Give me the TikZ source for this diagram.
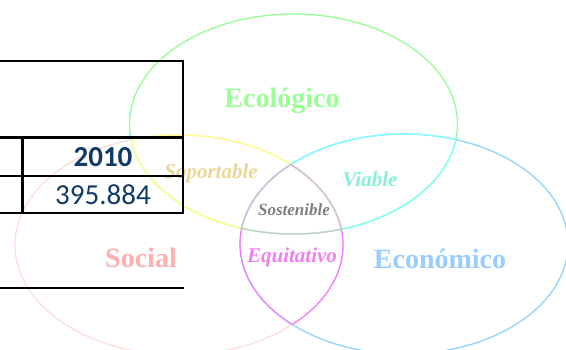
\documentclass[tikz,border=0pt]{standalone}
\usepackage{fontspec}
\setmainfont{Liberation Serif}
\newfontfamily\tabfont{Carlito}
\usetikzlibrary{positioning}

\definecolor{ecoGreen}{HTML}{94FF94}
\definecolor{socPink}{HTML}{FFDCDC}
\definecolor{ecnBlue}{HTML}{8ED4FF}
\definecolor{supYellow}{HTML}{FFFF88}
\definecolor{viaCyan}{HTML}{80FFFF}
\definecolor{equMag}{HTML}{F080FF}
\definecolor{susGray}{HTML}{CCCCCC}
\definecolor{tabBlue}{HTML}{113A66}

\newcommand\vennrim[1]{(#1) ellipse [x radius=164, y radius=110]}

\begin{document}
\begin{tikzpicture}[x=1pt,y=-1pt,
  rim/.style={line width=1.3pt},
  big/.style={font=\fontsize{28}{30}\selectfont\bfseries,anchor=base},
  mid/.style={font=\fontsize{21}{24}\selectfont\bfseries\itshape,anchor=base},
  tline/.style={line width=2.8pt,line cap=rect},
  cell/.style={font=\tabfont\fontsize{29}{31}\selectfont,text=tabBlue,anchor=base}]

\clip (0,0) rectangle (566,349);

% ---- centres of the three sets ----
\coordinate (eco) at (293.5,124);
\coordinate (soc) at (179,245);
\coordinate (ecn) at (404,244);

% ---- outer rims ----
\draw[rim,ecoGreen] \vennrim{eco};
\draw[rim,socPink] \vennrim{soc};
\draw[rim,ecnBlue] \vennrim{ecn};

% ---- pairwise overlaps ----
\foreach \a/\b/\c in {soc/eco/supYellow,eco/soc/supYellow,
                      ecn/eco/viaCyan,eco/ecn/viaCyan,
                      ecn/soc/equMag,soc/ecn/equMag}{
  \begin{scope}
    \clip \vennrim{\a};
    \draw[rim,\c] \vennrim{\b};
  \end{scope}
}

% ---- centre region ----
\foreach \a/\b/\c in {soc/ecn/eco,eco/ecn/soc,eco/soc/ecn}{
  \begin{scope}
    \clip \vennrim{\a};
    \clip \vennrim{\b};
    \draw[rim,susGray] \vennrim{\c};
  \end{scope}
}

% ---- labels ----
\node[big,text={rgb,255:red,153;green,255;blue,153}] (ecolbl) at (282,107) {Ecológico};
\node[big,text={rgb,255:red,255;green,176;blue,176}] (soclbl) at (141,267) {Social};
\node[big,text={rgb,255:red,153;green,204;blue,255}] (ecnlbl) at (440,268) {Económico};
\node[mid,text={rgb,255:red,236;green,214;blue,150}] (suplbl) at (211,178) {Soportable};
\node[mid,text={rgb,255:red,136;green,240;blue,216}] (vialbl) at (370,186) {Viable};
\node[mid,text={rgb,255:red,240;green,128;blue,240}] (equlbl) at (292,262) {Equitativo};
\node[mid,font=\fontsize{17}{20}\selectfont\bfseries\itshape,text=black!50] (suslbl) at (294,215) {Sostenible};

% ---- table ----
\draw[tline] (0,61) -- (183,61) -- (183,213) -- (0,213);
\draw[tline] (0,137.5) -- (183,137.5);
\draw[tline] (0,176) -- (183,176);
\draw[tline] (22.7,137.5) -- (22.7,213);
\draw[tline] (0,288) -- (183,288);

\node[cell,font=\tabfont\fontsize{29}{31}\selectfont\bfseries] (year) at (103,166) {2010};
\node[cell] (value) at (103,204) {395.884};
\end{tikzpicture}
\end{document}
